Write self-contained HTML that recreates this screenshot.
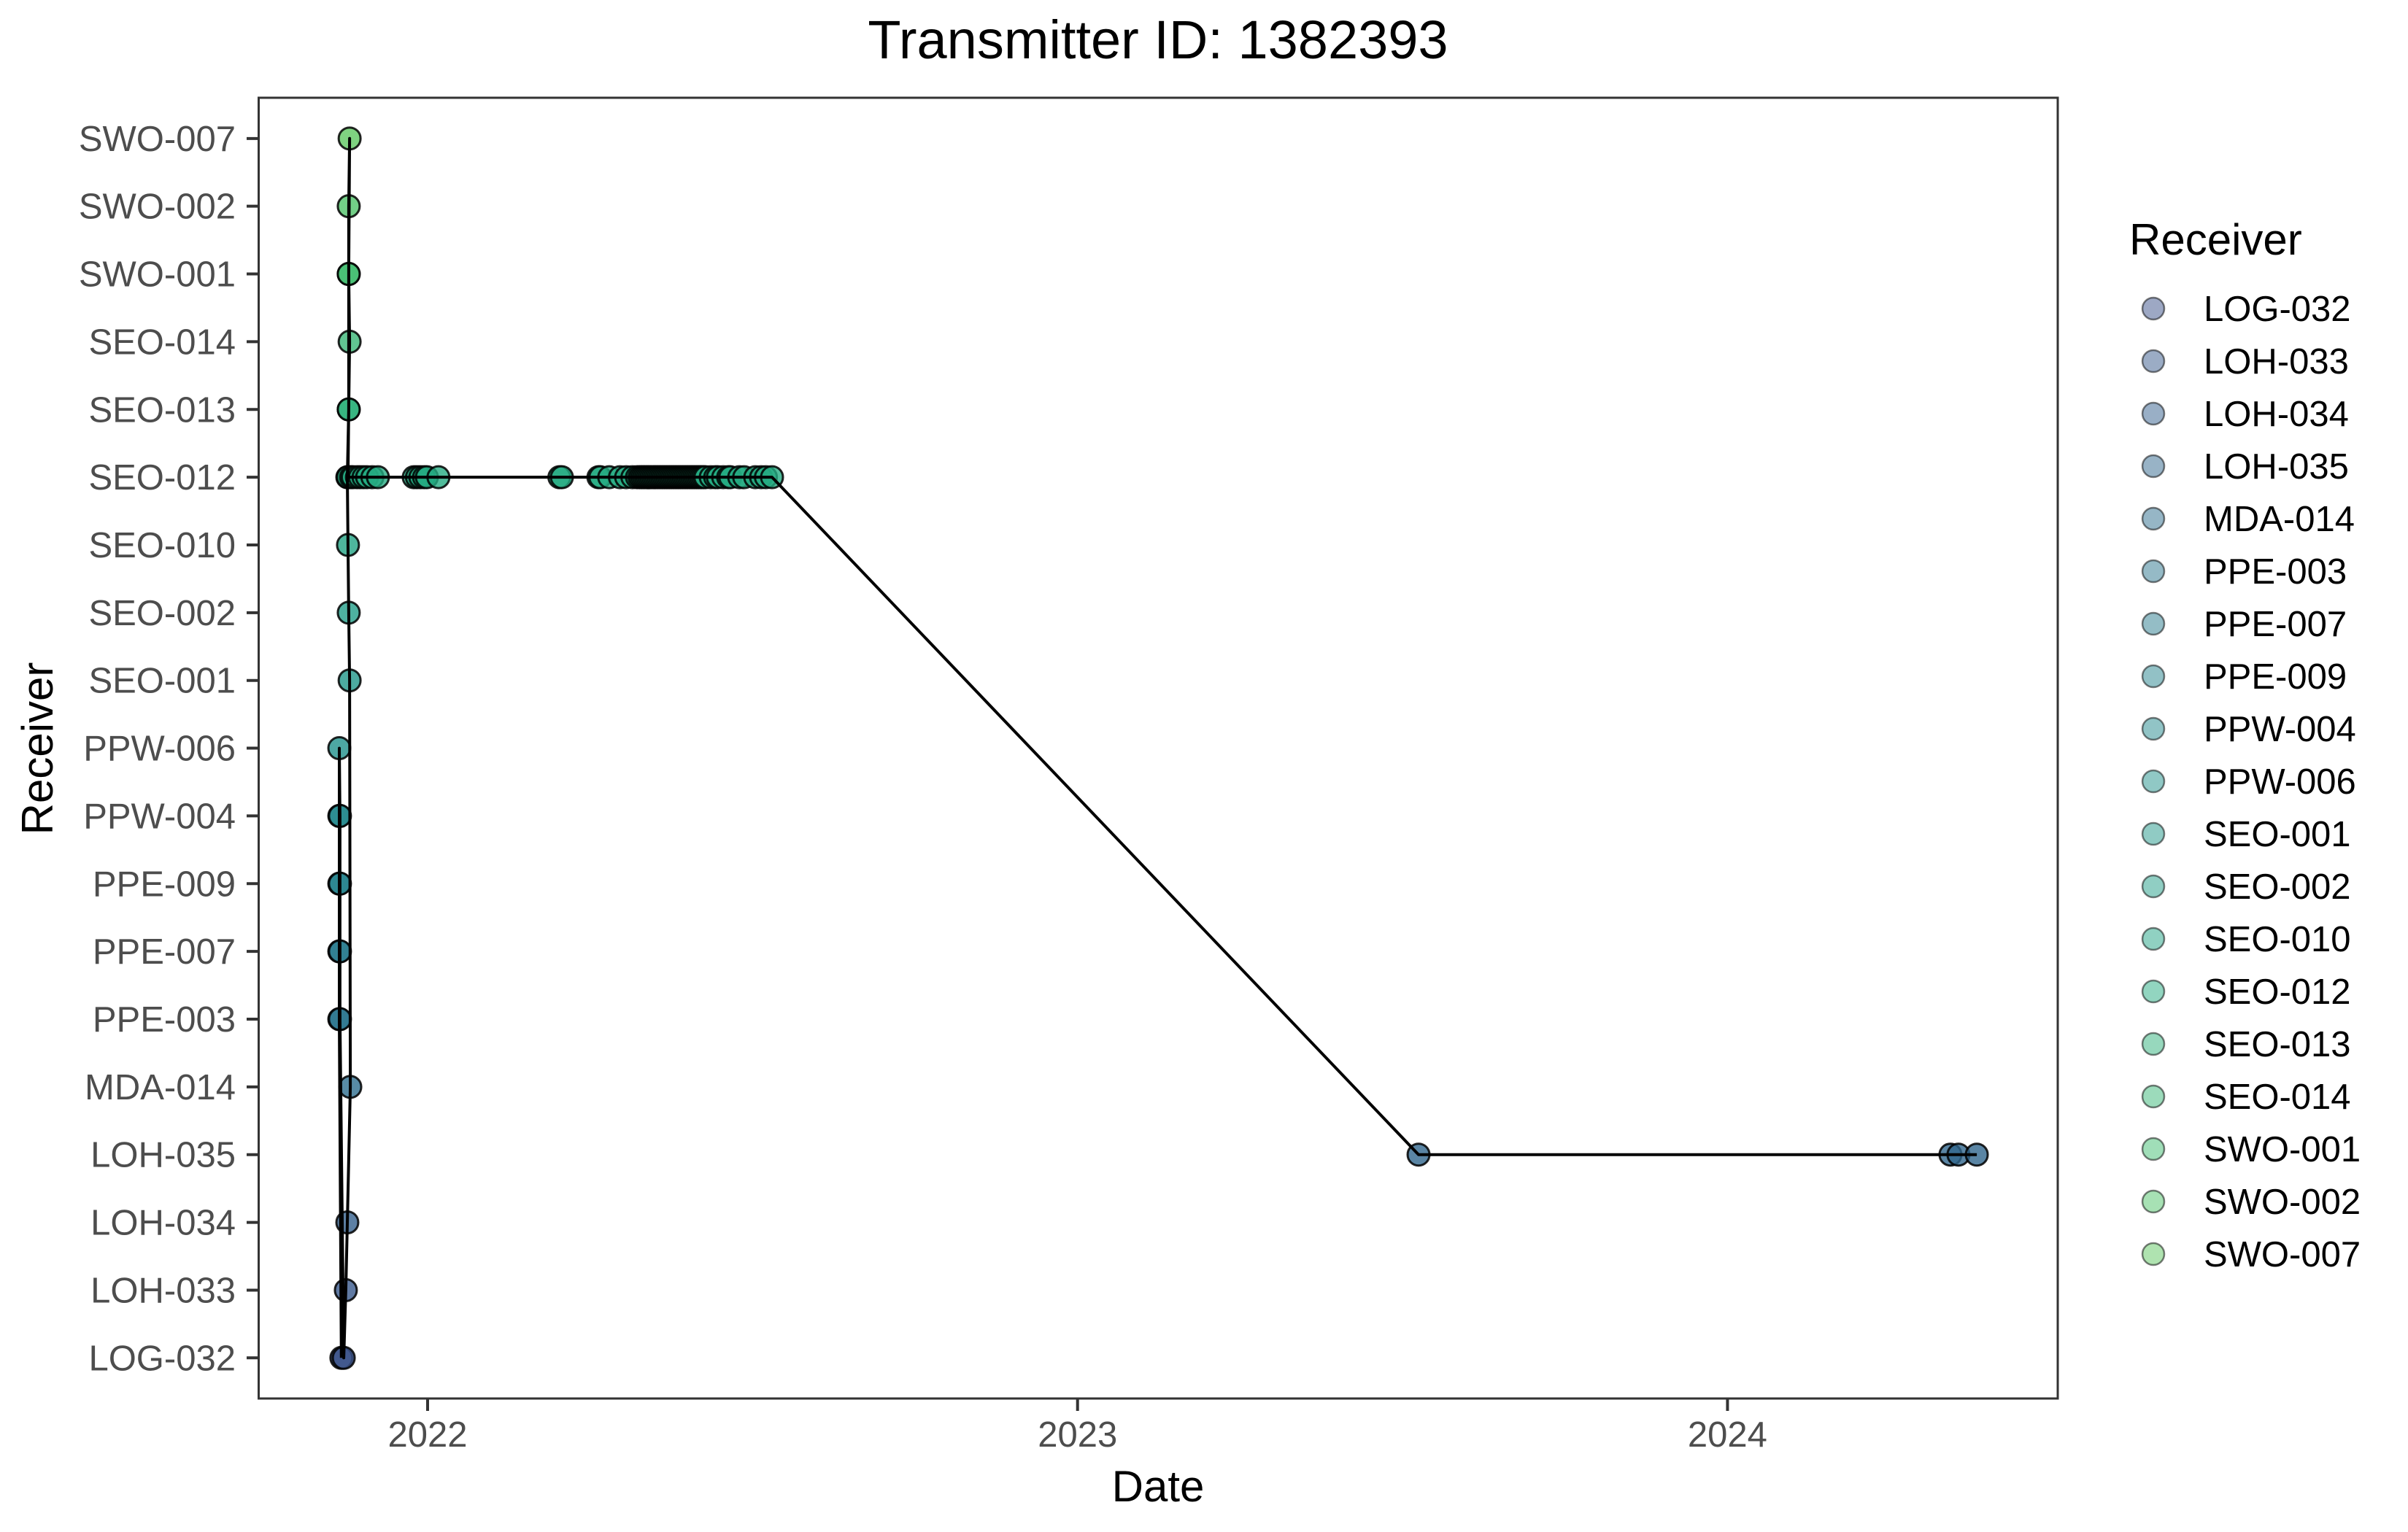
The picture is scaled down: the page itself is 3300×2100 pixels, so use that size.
<!DOCTYPE html>
<html><head><meta charset="utf-8"><style>
html,body{margin:0;padding:0;background:#fff;}
svg{display:block;font-family:"Liberation Sans",Arial,sans-serif;}
</style></head><body>
<svg id="chart" width="3300" height="2100" viewBox="0 0 3300 2100">
<rect x="0" y="0" width="3300" height="2100" fill="#fff"/>
<text x="1587" y="80" font-size="74" text-anchor="middle" fill="#000">Transmitter ID: 1382393</text>
<g id="yticks"></g>
<g id="xticks"></g>
<g id="points"></g>
<g id="path"></g>
<rect x="354.5" y="134" width="2465.5" height="1783" fill="none" stroke="#333" stroke-width="3"/>
<text x="1587" y="2058" font-size="60" text-anchor="middle" fill="#000">Date</text>
<text x="0" y="0" font-size="60" text-anchor="middle" fill="#000" transform="translate(72,1026) rotate(-90)">Receiver</text>
<text x="2918" y="349" font-size="60" fill="#000">Receiver</text>
<g id="legend"></g>
</svg>
<script>
const receivers = ["LOG-032","LOH-033","LOH-034","LOH-035","MDA-014","PPE-003","PPE-007","PPE-009","PPW-004","PPW-006","SEO-001","SEO-002","SEO-010","SEO-012","SEO-013","SEO-014","SWO-001","SWO-002","SWO-007"];
const xTickLabels = ["2022","2023","2024"];
const xTickDates = ["2022-01-01","2023-01-01","2024-01-01"];
// detections in time order
const detDates = [
"2021-11-13T14:00","2021-11-12T10:00","2021-11-12T10:00","2021-11-12T10:00","2021-11-12T10:00","2021-11-12T10:00",
"2021-11-12T19:00","2021-11-12T19:00","2021-11-12T19:00","2021-11-12T19:00","2021-11-14T22:00","2021-11-16T02:00","2021-11-16T22:00",
"2021-11-18T14:00","2021-11-18T05:00","2021-11-17T17:00","2021-11-17T07:00","2021-11-16T22:00","2021-11-17T17:00","2021-11-18T05:00",
"2021-11-17T17:00","2021-11-17T17:00","2021-11-18T05:00","2021-11-17T17:00","2021-11-17T17:00","2021-11-17T07:00",
"2021-11-19","2021-11-20","2021-11-22T07:00","2021-11-24","2021-11-26","2021-11-28T00:00","2021-12-01","2021-12-04T02:00",
"2021-12-24T05:00","2021-12-26","2021-12-27T22:00","2021-12-30","2021-12-31T14:00","2022-01-07T02:00",
"2022-03-16","2022-03-17T10:00","2022-04-06T22:00","2022-04-08","2022-04-13T00:00","2022-04-19","2022-04-22T12:00","2022-04-26","2022-04-28T14:00",
"2022-04-30","2022-05-01","2022-05-02","2022-05-03","2022-05-04","2022-05-05","2022-05-06","2022-05-07","2022-05-08","2022-05-09","2022-05-10","2022-05-11","2022-05-12","2022-05-13","2022-05-14","2022-05-15","2022-05-16","2022-05-17","2022-05-18","2022-05-19","2022-05-20","2022-05-21","2022-05-22","2022-05-23","2022-05-24","2022-05-25","2022-05-26","2022-05-27","2022-05-28","2022-05-29","2022-05-30","2022-05-31","2022-06-01","2022-06-02","2022-06-03","2022-06-04","2022-06-05","2022-06-06",
"2022-06-09","2022-06-11T12:00","2022-06-13","2022-06-16","2022-06-18T19:00","2022-06-20","2022-06-25","2022-06-27T19:00","2022-07-04","2022-07-07T07:00","2022-07-10","2022-07-13T10:00",
"2023-07-11T12:00","2024-05-05T05:00","2024-05-09T17:00","2024-05-20T00:00"];
const detReceivers = detDates.map((d,i)=>[
"LOG-032","PPE-003","PPE-007","PPE-009","PPW-004","PPW-006",
"PPW-004","PPE-009","PPE-007","PPE-003","LOG-032","LOH-033","LOH-034",
"MDA-014","SEO-001","SEO-002","SEO-010","SEO-012","SEO-013","SEO-014",
"SWO-001","SWO-002","SWO-007","SWO-001","SEO-013","SEO-012"][i] || (i>=detDates.length-4 ? "LOH-035" : "SEO-012"));

const NS="http://www.w3.org/2000/svg";
const T0 = Date.UTC(2022,0,1);
function days(s){ const d=new Date(s+(s.length===10?"T00:00Z":"Z")); return (d.getTime()-T0)/86400000; }
function xScale(s){ return 586 + days(s)*2.4403; }
function yScale(r){ const i=receivers.indexOf(r); return 1917 - 55.7 - i*92.86; }
const vir=[[0.2,[65,68,135]],[0.3,[53,95,141]],[0.4,[42,120,142]],[0.5,[33,145,140]],[0.6,[34,168,132]],[0.7,[68,191,112]],[0.8,[122,209,81]]];
function viridis(t){ for(let k=0;k<vir.length-1;k++){ if(t<=vir[k+1][0]){ const f=(t-vir[k][0])/(vir[k+1][0]-vir[k][0]); const a=vir[k][1],b=vir[k+1][1]; return "rgb("+a.map((v,j)=>Math.round(v+(b[j]-v)*f)).join(",")+")"; } } return "rgb(122,209,81)"; }
function color(r){ return viridis(0.25 + receivers.indexOf(r)*0.5/(receivers.length-1)); }
function mk(tag,attrs,parent){ const e=document.createElementNS(NS,tag); for(const k in attrs) e.setAttribute(k,attrs[k]); parent.appendChild(e); return e; }

const yt=document.getElementById("yticks");
receivers.forEach(r=>{
  const y=yScale(r);
  const tk=mk("line",{x1:338,x2:354.5,y1:y,y2:y,stroke:"#333","stroke-width":4},yt);
  
  
  const t=mk("text",{x:323,y:y+17,"font-size":49,"text-anchor":"end",fill:"#4d4d4d"},yt);
  
  
  t.textContent=r;
});
const xt=document.getElementById("xticks");
xTickDates.forEach((d,i)=>{
  const x=xScale(d);
  const tk=mk("line",{x1:x,x2:x,y1:1917,y2:1934,stroke:"#333","stroke-width":4},xt);
  
  
  const t=mk("text",{x:x,y:1983,"font-size":49,"text-anchor":"middle",fill:"#4d4d4d"},xt);
  
  
  t.textContent=xTickLabels[i];
});
const pg=document.getElementById("points");
detDates.forEach((d,i)=>{
  const c=mk("circle",{cx:xScale(d),cy:yScale(detReceivers[i]),r:15,fill:color(detReceivers[i]),"fill-opacity":0.8,stroke:"#000","stroke-opacity":0.85,"stroke-width":3},pg);
  
  
});
const pts=detDates.map((d,i)=>xScale(d).toFixed(1)+","+yScale(detReceivers[i]).toFixed(1)).join(" ");
const pl=mk("polyline",{points:pts,fill:"none",stroke:"#000","stroke-width":4,"stroke-linejoin":"round"},document.getElementById("path"));


const lg=document.getElementById("legend");
receivers.forEach((r,i)=>{
  const y=423+i*72.0;
  const c=mk("circle",{cx:2951,cy:y,r:15,fill:color(r),"fill-opacity":0.5,stroke:"#000","stroke-opacity":0.5,"stroke-width":2.5},lg);
  
  
  const t=mk("text",{x:3020,y:y+17,"font-size":49,fill:"#000"},lg);
  
  
  t.textContent=r;
});
</script>
</body></html>
